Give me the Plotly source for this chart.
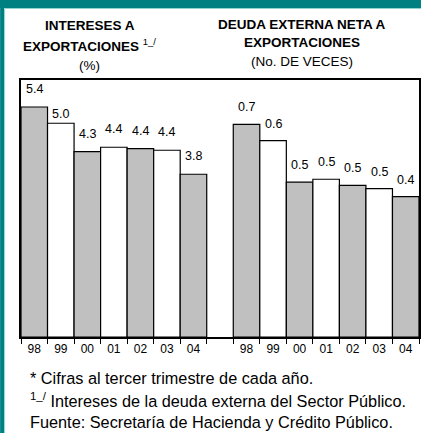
import plotly.graph_objects as go

years = ["98", "99", "00", "01", "02", "03", "04"]
intereses = [5.37, 4.99, 4.33, 4.43, 4.40, 4.36, 3.80]
intereses_txt = ["5.4", "5.0", "4.3", "4.4", "4.4", "4.4", "3.8"]
deuda = [0.662, 0.611, 0.482, 0.491, 0.472, 0.462, 0.437]
deuda_txt = ["0.7", "0.6", "0.5", "0.5", "0.5", "0.5", "0.4"]

W, H = 423, 433
ML, MR, MT, MB = 21, 2, 80, 96
PW, PH = W - ML - MR, H - MT - MB
TEAL = "#008080"
FONT = "Arial, Liberation Sans, sans-serif"


def px(x):
    return (x - ML) / PW


def py(y):
    return (H - MB - y) / PH


x_left = list(range(len(years)))
x_right = [i + len(years) + 1 for i in range(len(years))]
fills = ["#c0c0c0" if i % 2 == 0 else "white" for i in range(len(years))]

fig = go.Figure()
fig.add_trace(go.Bar(x=x_left, y=intereses, width=1, marker=dict(color=fills, line=dict(color="black", width=1.2)),
                     hoverinfo="skip", yaxis="y"))
fig.add_trace(go.Bar(x=x_right, y=deuda, width=1, marker=dict(color=fills, line=dict(color="black", width=1.2)),
                     hoverinfo="skip", yaxis="y2"))

annots = []
for i, (v, t) in enumerate(zip(intereses, intereses_txt)):
    annots.append(dict(x=x_left[i], y=v, yref="y", text=t, showarrow=False, yanchor="bottom",
                       yshift=0 if i == 1 else 9, font=dict(size=12.5, color="black", family=FONT)))
for i, (v, t) in enumerate(zip(deuda, deuda_txt)):
    annots.append(dict(x=x_right[i], y=v, yref="y2", text=t, showarrow=False, yanchor="bottom",
                       yshift=8, font=dict(size=12.5, color="black", family=FONT)))

hdr = dict(showarrow=False, xref="paper", yref="paper", xanchor="center", yanchor="middle",
           font=dict(size=13.5, color="black", family=FONT))
annots += [
    dict(hdr, x=px(90), y=py(25), text="<b>INTERESES A</b>"),
    dict(hdr, x=px(90), y=py(45), text="<b>EXPORTACIONES</b> <sup>1_/</sup>"),
    dict(hdr, x=px(90), y=py(65), text="(%)"),
    dict(hdr, x=px(303), y=py(24), text="<b>DEUDA EXTERNA NETA A</b>"),
    dict(hdr, x=px(303), y=py(42), text="<b>EXPORTACIONES</b>"),
    dict(hdr, x=px(303), y=py(61), text="(No. DE VECES)"),
]
foot = dict(showarrow=False, xref="paper", yref="paper", xanchor="left", yanchor="middle",
            font=dict(size=16.3, color="black", family=FONT))
annots += [
    dict(foot, x=px(28), y=py(378), text="* Cifras al tercer trimestre de cada año."),
    dict(foot, x=px(28), y=py(400), text="<sup>1_/</sup> Intereses de la deuda externa del Sector Público."),
    dict(foot, x=px(28), y=py(422), text="Fuente: Secretaría de Hacienda y Crédito Público."),
]

shapes = [
    dict(type="rect", xref="paper", yref="paper", x0=px(0), x1=px(W), y0=py(8), y1=py(0),
         fillcolor=TEAL, line_width=0, layer="below"),
    dict(type="rect", xref="paper", yref="paper", x0=px(0), x1=px(4), y0=py(H), y1=py(0),
         fillcolor=TEAL, line_width=0, layer="below"),
    dict(type="line", xref="paper", yref="paper", x0=px(4.5), x1=px(W), y0=py(8.5), y1=py(8.5),
         line=dict(color="#8fd3d3", width=1), layer="below"),
    dict(type="line", xref="paper", yref="paper", x0=px(4.5), x1=px(4.5), y0=py(H), y1=py(8.5),
         line=dict(color="#8fd3d3", width=1), layer="below"),
]

fig.update_layout(
    width=W, height=H,
    margin=dict(l=ML, r=MR, t=MT, b=MB),
    paper_bgcolor="white", plot_bgcolor="white",
    showlegend=False, barmode="overlay",
    annotations=annots, shapes=shapes,
    xaxis=dict(range=[-0.5, 2 * len(years) + 0.5], tickmode="array", tickvals=x_left + x_right,
               ticktext=years + years, ticks="", showgrid=False, zeroline=False,
               showline=True, linecolor="black", linewidth=1.5, mirror=True,
               tickfont=dict(size=12, color="black", family=FONT),
               minor=dict(tickmode="linear", tick0=-0.5, dtick=1, ticks="outside", ticklen=5,
                          tickcolor="black", tickwidth=1.2, showgrid=False)),
    yaxis=dict(range=[0, 6], visible=True, showticklabels=False, ticks="", showgrid=False, zeroline=False,
               showline=True, linecolor="black", linewidth=1.5, mirror=True),
    yaxis2=dict(range=[0, 0.8], overlaying="y", visible=False),
)

# the page body has an 8px margin by default, drop it so the figure fills the window
fig.write_html("out.html", config={"displayModeBar": False},
               post_script="document.body.style.margin='0';")
